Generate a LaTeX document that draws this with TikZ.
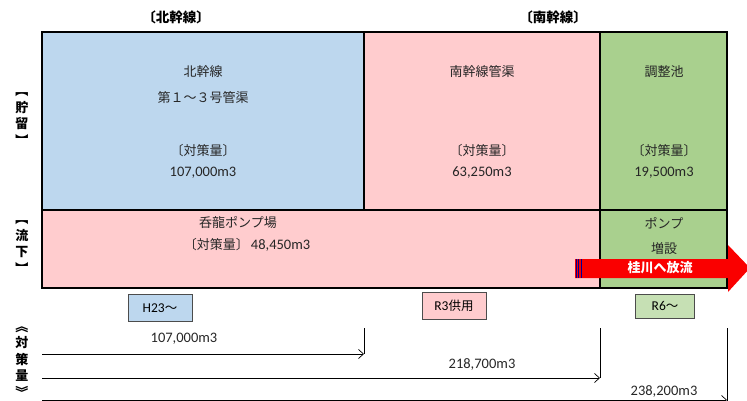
\documentclass[tikz,border=0pt]{standalone}
\usepackage{fontspec}
\setmainfont{Noto Sans CJK JP}
\newfontfamily\calib{Carlito}
\usetikzlibrary{arrows.meta}

\definecolor{kitablue}{RGB}{189,215,238}
\definecolor{minamipink}{RGB}{255,204,206}
\definecolor{chouseigreen}{RGB}{169,208,142}
\definecolor{lightgreen}{RGB}{198,224,180}
\definecolor{houryured}{RGB}{250,0,0}

\tikzset{
  frame/.style={draw=black,line width=1.3pt},
  txt/.style={font=\fontsize{13}{15}\selectfont,inner sep=0pt,text=black!85},
  num/.style={font=\calib\fontsize{14.5}{16}\selectfont,inner sep=0pt,text=black!85},
  head/.style={font=\bfseries\fontsize{13.5}{15}\selectfont,inner sep=0pt},
  side/.style={font=\bfseries\fontsize{13}{16.5}\selectfont,inner sep=0pt,align=center},
  yearbox/.style={draw=black!70,line width=0.6pt,minimum width=64pt,minimum height=27pt,inner sep=0pt,font=\fontsize{12.5}{15}\selectfont},
  meas/.style={line width=0.7pt,-{Straight Barb[length=5pt,width=9pt]}},
  tick/.style={line width=0.7pt},
}

\begin{document}
\begin{tikzpicture}[x=1pt,y=-1pt]
\useasboundingbox (0,0) rectangle (747,401);
\def\xl{42}
\def\xa{364}
\def\xb{600}
\def\xr{727}

% storage and flow blocks
\fill[kitablue] (\xl,32) rectangle (\xa,210);
\fill[minamipink] (\xa,32) rectangle (\xb,210);
\fill[minamipink] (\xl,210) rectangle (\xb,288);
\fill[chouseigreen] (\xb,32) rectangle (\xr,288);
\draw[frame] (\xl,32) rectangle (\xr,288);
\draw[frame] (\xa,32) -- (\xa,210);
\draw[frame] (\xb,32) -- (\xb,288);
\draw[frame] (\xl,210) -- (\xr,210);

% headings
\node[head] (kitahead) at (176,17) {〔北幹線〕};
\node[head] (minamihead) at (553,17) {〔南幹線〕};
\node[side] (chozo) at (22,119) {︻\\貯\\留\\︼};
\node[side] (ryuka) at (22,247) {︻\\流\\下\\︼};
\node[side] (taisaku) at (22,362) {︽\\対\\策\\量\\︾};

% storage row
\node[txt] (kitaname) at (203,72) {北幹線};
\node[txt] (kitapipe) at (203,98) {第１～３号管渠};
\node[txt] (kitalabel) at (203,151) {〔対策量〕};
\node[num] (kitavol) at (203,173) {107,000m3};
\node[txt] (minaminame) at (482,72) {南幹線管渠};
\node[txt] (minamilabel) at (482,151) {〔対策量〕};
\node[num] (minamivol) at (482,173) {63,250m3};
\node[txt] (ikename) at (664,72) {調整池};
\node[txt] (ikelabel) at (664,151) {〔対策量〕};
\node[num] (ikevol) at (664,173) {19,500m3};

% flow row
\node[txt] (pumpname) at (238,223) {呑龍ポンプ場};
\node[txt] (pumpvol) at (247,245) {〔対策量〕\,{\calib\fontsize{14.5}{16}\selectfont 48,450m3}};
\node[txt] (zouname) at (664,223) {ポンプ};
\node[txt] (zouset) at (664,249) {増設};

% discharge arrow
\fill[houryured] (575,259) -- (728,259) -- (728,245) -- (750,268) -- (728,292) -- (728,278) -- (575,278) -- cycle;
\foreach \s in {576,578.5,581}
  \draw[blue!60!black,line width=0.8pt] (\s,259) -- (\s,278);
\node[font=\bfseries\fontsize{13}{15}\selectfont,text=white,inner sep=0pt] (houryu) at (660,268) {桂川へ放流};

% periods
\node[yearbox,fill=kitablue] (h23) at (160,308) {{\calib\fontsize{13.5}{15}\selectfont H23}～};
\node[yearbox,fill=minamipink] (r3) at (454,306) {{\calib\fontsize{13.5}{15}\selectfont R3}供用};
\node[yearbox,fill=lightgreen,minimum width=59pt,minimum height=24pt] (r6) at (665,306) {{\calib\fontsize{13.5}{15}\selectfont R6}～};

% cumulative amounts
\coordinate (start1) at (\xl,354);
\coordinate (start2) at (\xl,378);
\coordinate (start3) at (\xl,400);
\coordinate (top1) at (\xa,328);
\coordinate (end1) at (\xa,354);
\coordinate (top2) at (\xb,328);
\coordinate (end2) at (\xb,378);
\coordinate (top3) at (\xr,328);
\coordinate (end3) at (\xr,400);
\draw[tick] (top1) -- (end1);
\draw[tick] (top2) -- (end2);
\draw[tick] (top3) -- (\xr,401);
\draw[meas] (start1) -- (end1);
\draw[meas] (start2) -- (end2);
\draw[meas] (start3) -- (end3);
\node[num] (sum1) at (184,339) {107,000m3};
\node[num] (sum2) at (482,364) {218,700m3};
\node[num] (sum3) at (664,391) {238,200m3};
\end{tikzpicture}
\end{document}
